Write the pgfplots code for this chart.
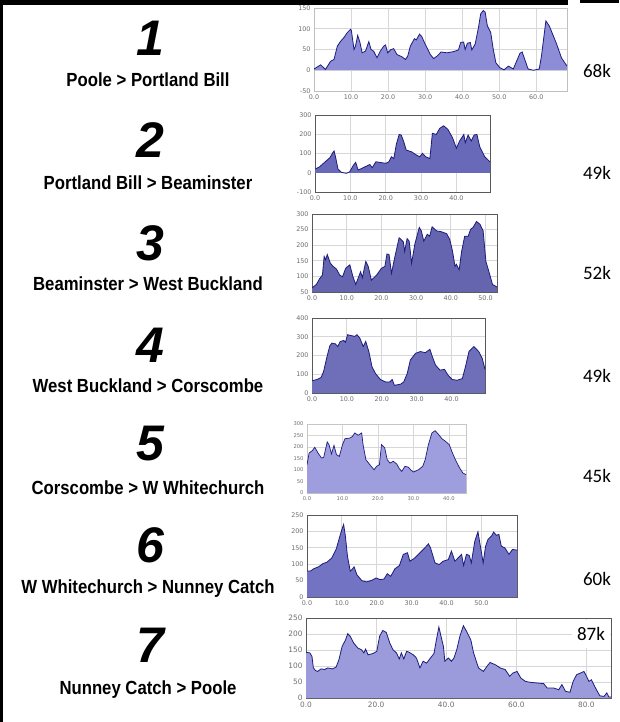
\documentclass[border=0pt]{standalone}
\usepackage{pgfplots}
\pgfplotsset{compat=1.18}
\usepackage{fontspec}
\setmainfont{Liberation Sans}
\newfontfamily\tickfont{DejaVu Sans}
\newfontfamily\kfont{Carlito}
\newfontfamily\condfont[FakeStretch=0.88]{Liberation Sans}
\definecolor{lineblue}{RGB}{28,28,125}
\definecolor{gridc}{RGB}{215,215,215}
\definecolor{tickc}{RGB}{110,110,110}
\pgfplotsset{
  prof/.style={
    scale only axis, anchor=north west,
    axis background/.style={fill=white},
    grid=major, major grid style={gridc, line width=0.8pt},
    major tick length=0pt,
    axis line style={draw=#1, line width=0.8pt},
    tick label style={font=\tickfont\fontsize{6.4}{7}\selectfont, text=tickc},
    /pgf/number format/assume math mode=true,
    xticklabel style={/pgf/number format/.cd, fixed, fixed zerofill, precision=1},
    yticklabel style={/pgf/number format/.cd, fixed, precision=0},
    xmin=0, clip=true,
  },
}
\newcommand{\routelabel}[2]{\node at (148pt,-#1pt) {\condfont\fontsize{19}{19}\selectfont\bfseries #2};}
\newcommand{\bignum}[2]{\node at (150pt,-#1pt) {\fontsize{50}{50}\selectfont\bfseries\itshape #2};}
\newcommand{\klabel}[2]{\node at (597pt,-#1pt) {\kfont\fontsize{19}{19}\selectfont #2};}
\begin{document}
\begin{tikzpicture}
\useasboundingbox (0,0) rectangle (619pt,-722pt);
\fill[white] (0,0) rectangle (619pt,-722pt);

% ---- 1
\begin{axis}[prof={gray!50}, at={(314pt,-8pt)}, width=253pt, height=83pt,
  xmax=68.3, ymin=-50, ymax=150, xtick={0,10,...,60}, ytick={-50,0,50,100,150}]
\addplot[fill={rgb,255:red,140;green,140;blue,215}, draw=none] coordinates {
(0,3) (1.8,13) (3.1,2) (4.5,22) (5.4,26) (6.3,58) (7.2,70) (8.1,79) (9,91) (9.9,99) (10.1,95) (10.8,50) (11.2,58) (11.8,84) (12.4,67) (13,42) (13.9,46) (14.8,69) (15.4,50) (16.1,46) (17,30) (17.9,46) (18.8,58) (19.3,61) (19.9,42) (20.8,50) (21.5,52) (22.4,38) (23.8,32) (24.7,26) (25.3,34) (26,58) (27.1,76) (27.6,73) (28.5,87) (29.1,81) (30,63) (31.4,38) (32.3,28) (33.2,34) (34.3,44) (35.9,42) (37.7,45) (39,49) (39.6,67) (40.4,68) (40.8,50) (41.4,65) (42.2,67) (42.6,49) (43.5,63) (44.4,103) (45,136) (45.7,144) (46.2,140) (46.8,107) (47.7,91) (48.4,50) (49.1,18) (50.2,6) (51.3,1) (52.5,10) (53.8,3) (54.7,22) (55.6,41) (56.2,44) (56.9,26) (57.8,3) (59.2,0) (60.8,3) (61.4,34) (62.6,119) (63.5,107) (64.6,83) (65.5,63) (66.8,30) (68.3,10)
} \closedcycle;
\addplot[lineblue, line width=0.8pt] coordinates {
(0,3) (1.8,13) (3.1,2) (4.5,22) (5.4,26) (6.3,58) (7.2,70) (8.1,79) (9,91) (9.9,99) (10.1,95) (10.8,50) (11.2,58) (11.8,84) (12.4,67) (13,42) (13.9,46) (14.8,69) (15.4,50) (16.1,46) (17,30) (17.9,46) (18.8,58) (19.3,61) (19.9,42) (20.8,50) (21.5,52) (22.4,38) (23.8,32) (24.7,26) (25.3,34) (26,58) (27.1,76) (27.6,73) (28.5,87) (29.1,81) (30,63) (31.4,38) (32.3,28) (33.2,34) (34.3,44) (35.9,42) (37.7,45) (39,49) (39.6,67) (40.4,68) (40.8,50) (41.4,65) (42.2,67) (42.6,49) (43.5,63) (44.4,103) (45,136) (45.7,144) (46.2,140) (46.8,107) (47.7,91) (48.4,50) (49.1,18) (50.2,6) (51.3,1) (52.5,10) (53.8,3) (54.7,22) (55.6,41) (56.2,44) (56.9,26) (57.8,3) (59.2,0) (60.8,3) (61.4,34) (62.6,119) (63.5,107) (64.6,83) (65.5,63) (66.8,30) (68.3,10)
};
\end{axis}

% ---- 2
\begin{axis}[prof={gray!70!black}, at={(315pt,-115pt)}, width=175pt, height=77pt,
  xmax=49.5, ymin=-100, ymax=300, xtick={0,10,...,40}, ytick={-100,0,100,200,300}]
\addplot[fill={rgb,255:red,105;green,105;blue,185}, draw=none] coordinates {
(0,19) (1.3,31) (2.7,54) (4.2,78) (5.1,106) (5.4,113) (5.8,83) (6.5,19) (7.5,2) (8.9,-3) (9.8,5) (10.9,40) (11.5,54) (12.2,14) (13.6,26) (15.5,43) (16.2,26) (17.2,57) (18.3,54) (20,49) (20.9,57) (21.6,83) (22.3,74) (23,147) (23.8,199) (24.4,196) (25.1,161) (25.8,118) (27.3,109) (28.7,92) (29.6,83) (30.4,101) (31.3,83) (32.5,74) (33.2,205) (34.3,199) (35.3,231) (36.4,244) (37.6,225) (38.9,182) (40,127) (40.9,165) (42.1,199) (42.5,156) (43.3,196) (44.2,165) (45,196) (45.8,199) (46.6,135) (48,83) (49.5,57)
} \closedcycle;
\addplot[lineblue, line width=0.8pt] coordinates {
(0,19) (1.3,31) (2.7,54) (4.2,78) (5.1,106) (5.4,113) (5.8,83) (6.5,19) (7.5,2) (8.9,-3) (9.8,5) (10.9,40) (11.5,54) (12.2,14) (13.6,26) (15.5,43) (16.2,26) (17.2,57) (18.3,54) (20,49) (20.9,57) (21.6,83) (22.3,74) (23,147) (23.8,199) (24.4,196) (25.1,161) (25.8,118) (27.3,109) (28.7,92) (29.6,83) (30.4,101) (31.3,83) (32.5,74) (33.2,205) (34.3,199) (35.3,231) (36.4,244) (37.6,225) (38.9,182) (40,127) (40.9,165) (42.1,199) (42.5,156) (43.3,196) (44.2,165) (45,196) (45.8,199) (46.6,135) (48,83) (49.5,57)
};
\end{axis}

% ---- 3
\begin{axis}[prof={gray!70!black}, at={(312pt,-214pt)}, width=185pt, height=78pt,
  xmax=53.3, ymin=50, ymax=300, xtick={0,10,...,50}, ytick={50,100,...,300}]
\addplot[fill={rgb,255:red,100;green,100;blue,175}, draw=none] coordinates {
(0,63) (1.25,74) (2.2,93) (3,104) (3.5,164) (3.9,153) (4.4,170) (5.3,142) (6.1,132) (7,124) (8,104) (8.8,99) (9.7,126) (10.9,137) (11.8,99) (12.6,74) (14,115) (14.5,96) (15.5,148) (16.2,132) (17.1,88) (18.6,104) (20,126) (21,132) (21.6,172) (22.2,170) (22.9,110) (23.8,159) (25.1,224) (26.3,211) (26.7,180) (27.4,221) (28,213) (28.7,142) (29.6,202) (30.9,257) (31.5,246) (32.2,213) (33.2,235) (33.9,229) (34.6,259) (35.9,246) (37.3,243) (38.8,237) (39.7,218) (40.5,180) (41.2,132) (41.6,139) (42.4,121) (43.1,180) (44,229) (45,229) (45.7,251) (46.4,257) (47.4,276) (48.4,267) (49.3,246) (50.1,148) (51.1,110) (52,74) (53.3,66)
} \closedcycle;
\addplot[lineblue, line width=0.8pt] coordinates {
(0,63) (1.25,74) (2.2,93) (3,104) (3.5,164) (3.9,153) (4.4,170) (5.3,142) (6.1,132) (7,124) (8,104) (8.8,99) (9.7,126) (10.9,137) (11.8,99) (12.6,74) (14,115) (14.5,96) (15.5,148) (16.2,132) (17.1,88) (18.6,104) (20,126) (21,132) (21.6,172) (22.2,170) (22.9,110) (23.8,159) (25.1,224) (26.3,211) (26.7,180) (27.4,221) (28,213) (28.7,142) (29.6,202) (30.9,257) (31.5,246) (32.2,213) (33.2,235) (33.9,229) (34.6,259) (35.9,246) (37.3,243) (38.8,237) (39.7,218) (40.5,180) (41.2,132) (41.6,139) (42.4,121) (43.1,180) (44,229) (45,229) (45.7,251) (46.4,257) (47.4,276) (48.4,267) (49.3,246) (50.1,148) (51.1,110) (52,74) (53.3,66)
};
\end{axis}

% ---- 4
\begin{axis}[prof={gray!70!black}, at={(312pt,-318pt)}, width=173pt, height=75pt,
  xmax=49.6, ymin=0, ymax=400, xtick={0,10,...,40}, ytick={0,100,...,400}]
\addplot[fill={rgb,255:red,110;green,110;blue,185}, draw=none] coordinates {
(0,65) (1.4,72) (2.6,83) (3.3,113) (4.3,194) (5.1,251) (5.7,266) (6.7,262) (7.4,248) (8.1,275) (9.1,280) (9.6,271) (10.2,311) (11.5,305) (12.3,302) (12.9,311) (13.7,293) (14.7,248) (15.4,275) (16.3,221) (17.2,140) (18.2,104) (19.6,72) (21.1,59) (22.3,59) (23,72) (23.6,41) (25.4,47) (26.3,59) (27.3,104) (28.2,176) (29.7,212) (31.1,221) (32.5,215) (33.8,233) (34.5,194) (35.4,149) (36.7,122) (38,126) (39,95) (40.2,72) (41.6,68) (43.1,77) (44,140) (45,221) (46.4,248) (47.8,221) (48.8,185) (49.6,126)
} \closedcycle;
\addplot[lineblue, line width=0.8pt] coordinates {
(0,65) (1.4,72) (2.6,83) (3.3,113) (4.3,194) (5.1,251) (5.7,266) (6.7,262) (7.4,248) (8.1,275) (9.1,280) (9.6,271) (10.2,311) (11.5,305) (12.3,302) (12.9,311) (13.7,293) (14.7,248) (15.4,275) (16.3,221) (17.2,140) (18.2,104) (19.6,72) (21.1,59) (22.3,59) (23,72) (23.6,41) (25.4,47) (26.3,59) (27.3,104) (28.2,176) (29.7,212) (31.1,221) (32.5,215) (33.8,233) (34.5,194) (35.4,149) (36.7,122) (38,126) (39,95) (40.2,72) (41.6,68) (43.1,77) (44,140) (45,221) (46.4,248) (47.8,221) (48.8,185) (49.6,126)
};
\end{axis}

% ---- 5
\begin{axis}[prof={gray!45}, at={(307pt,-424pt)}, width=159pt, height=69pt,
  xmax=44.8, ymin=0, ymax=300, xtick={0,10,...,40}, ytick={0,50,...,300},
  tick label style={font=\tickfont\fontsize{5.2}{6}\selectfont}]
\addplot[fill={rgb,255:red,158;green,158;blue,222}, draw=none] coordinates {
(0,123) (0.6,174) (1.5,184) (2.2,199) (3.1,174) (4.1,152) (4.7,155) (5.7,222) (6.2,210) (6.9,170) (7.6,207) (8.3,167) (9.1,159) (10,210) (10.7,236) (12.1,239) (12.8,246) (13.5,261) (14.4,251) (15.4,261) (15.8,210) (16.6,145) (17.7,123) (18.9,101) (19.6,116) (20.4,123) (21,210) (21.9,196) (22.6,145) (23.4,130) (24.3,138) (25.3,126) (26,106) (26.7,94) (27.6,116) (28.6,112) (29.2,101) (30,91) (31.4,101) (32.6,116) (33.3,145) (34.2,210) (35.2,261) (36.1,271) (37.1,254) (38,236) (39,225) (40.1,210) (40.8,181) (41.8,145) (43,109) (43.9,87) (44.8,80)
} \closedcycle;
\addplot[lineblue, line width=0.7pt] coordinates {
(0,123) (0.6,174) (1.5,184) (2.2,199) (3.1,174) (4.1,152) (4.7,155) (5.7,222) (6.2,210) (6.9,170) (7.6,207) (8.3,167) (9.1,159) (10,210) (10.7,236) (12.1,239) (12.8,246) (13.5,261) (14.4,251) (15.4,261) (15.8,210) (16.6,145) (17.7,123) (18.9,101) (19.6,116) (20.4,123) (21,210) (21.9,196) (22.6,145) (23.4,130) (24.3,138) (25.3,126) (26,106) (26.7,94) (27.6,116) (28.6,112) (29.2,101) (30,91) (31.4,101) (32.6,116) (33.3,145) (34.2,210) (35.2,261) (36.1,271) (37.1,254) (38,236) (39,225) (40.1,210) (40.8,181) (41.8,145) (43,109) (43.9,87) (44.8,80)
};
\end{axis}

% ---- 6
\begin{axis}[prof={gray!70!black}, at={(307pt,-515pt)}, width=210pt, height=82pt,
  xmax=60.2, ymin=0, ymax=250, xtick={0,10,...,50}, ytick={0,50,...,250}]
\addplot[fill={rgb,255:red,115;green,115;blue,195}, draw=none] coordinates {
(0,79) (1,79) (1.9,86) (3.3,92) (4.6,102) (5.7,106) (7.1,119) (8.4,147) (9.3,181) (10,206) (10.5,221) (11,186) (11.6,124) (12.4,79) (12.9,84) (13.5,92) (14.3,68) (15.7,50) (17.1,46) (18.6,51) (19.8,58) (21,53) (22.1,55) (23,71) (24,63) (25.2,86) (26.5,96) (27.6,130) (28.8,135) (29.5,109) (30.9,119) (32.4,135) (33.8,150) (34.8,162) (35.4,150) (36.7,104) (37.9,99) (39,109) (40.5,114) (41.4,140) (42.4,109) (43.3,119) (44.3,130) (44.9,96) (45.7,130) (46.5,127) (47.1,104) (48.1,170) (49,199) (49.7,155) (50.5,104) (51.2,155) (51.9,176) (52.9,186) (53.5,198) (54.3,188) (55,191) (55.7,155) (56.7,150) (57.9,130) (58.9,145) (60.2,143)
} \closedcycle;
\addplot[lineblue, line width=0.8pt] coordinates {
(0,79) (1,79) (1.9,86) (3.3,92) (4.6,102) (5.7,106) (7.1,119) (8.4,147) (9.3,181) (10,206) (10.5,221) (11,186) (11.6,124) (12.4,79) (12.9,84) (13.5,92) (14.3,68) (15.7,50) (17.1,46) (18.6,51) (19.8,58) (21,53) (22.1,55) (23,71) (24,63) (25.2,86) (26.5,96) (27.6,130) (28.8,135) (29.5,109) (30.9,119) (32.4,135) (33.8,150) (34.8,162) (35.4,150) (36.7,104) (37.9,99) (39,109) (40.5,114) (41.4,140) (42.4,109) (43.3,119) (44.3,130) (44.9,96) (45.7,130) (46.5,127) (47.1,104) (48.1,170) (49,199) (49.7,155) (50.5,104) (51.2,155) (51.9,176) (52.9,186) (53.5,198) (54.3,188) (55,191) (55.7,155) (56.7,150) (57.9,130) (58.9,145) (60.2,143)
};
\end{axis}

% ---- 7
\begin{axis}[prof={gray!70!black}, at={(306pt,-618pt)}, width=305pt, height=80pt,
  xmax=87, ymin=0, ymax=250, xtick={0,20,...,80}, ytick={0,50,...,250},
  tick label style={font=\tickfont\fontsize{7.4}{8}\selectfont}]
\addplot[fill={rgb,255:red,155;green,155;blue,220}, draw=none] coordinates {
(0,143) (1.1,141) (1.7,130) (2.1,94) (2.7,86) (3.3,83) (4.3,91) (5.3,89) (6.2,94) (7.6,91) (8.6,97) (9.4,120) (10.3,161) (11.3,182) (11.9,201) (12.6,193) (13.6,172) (14.8,156) (15.8,151) (16.5,141) (17,153) (17.7,135) (19.1,139) (20.2,146) (21,193) (21.9,211) (22.9,205) (23.9,172) (24.8,151) (25.8,141) (26.6,122) (27.2,141) (27.9,122) (28.7,146) (29.4,143) (30.6,135) (31.5,125) (32.5,94) (33.4,115) (34.4,109) (35.5,125) (36.5,139) (37.2,182) (37.9,222) (38.4,198) (39.2,161) (39.6,115) (40.6,125) (41.5,115) (42.2,125) (43,151) (43.9,193) (44.9,226) (45.8,208) (47,182) (47.8,141) (49.2,94) (50.6,83) (51.6,99) (52.5,111) (54,104) (55.4,94) (56.8,89) (58.1,68) (59,78) (60.2,83) (61.3,62) (62.6,52) (64,49) (65.9,47) (67.8,45) (68.8,31) (70.7,31) (72.1,26) (73,42) (74,21) (75.3,18) (76.2,52) (77.2,73) (78.3,78) (79.3,83) (80,68) (80.7,52) (81.4,57) (82.6,31) (83.8,7) (85,5) (85.8,16) (86.4,3) (87,3)
} \closedcycle;
\addplot[lineblue, line width=0.8pt] coordinates {
(0,143) (1.1,141) (1.7,130) (2.1,94) (2.7,86) (3.3,83) (4.3,91) (5.3,89) (6.2,94) (7.6,91) (8.6,97) (9.4,120) (10.3,161) (11.3,182) (11.9,201) (12.6,193) (13.6,172) (14.8,156) (15.8,151) (16.5,141) (17,153) (17.7,135) (19.1,139) (20.2,146) (21,193) (21.9,211) (22.9,205) (23.9,172) (24.8,151) (25.8,141) (26.6,122) (27.2,141) (27.9,122) (28.7,146) (29.4,143) (30.6,135) (31.5,125) (32.5,94) (33.4,115) (34.4,109) (35.5,125) (36.5,139) (37.2,182) (37.9,222) (38.4,198) (39.2,161) (39.6,115) (40.6,125) (41.5,115) (42.2,125) (43,151) (43.9,193) (44.9,226) (45.8,208) (47,182) (47.8,141) (49.2,94) (50.6,83) (51.6,99) (52.5,111) (54,104) (55.4,94) (56.8,89) (58.1,68) (59,78) (60.2,83) (61.3,62) (62.6,52) (64,49) (65.9,47) (67.8,45) (68.8,31) (70.7,31) (72.1,26) (73,42) (74,21) (75.3,18) (76.2,52) (77.2,73) (78.3,78) (79.3,83) (80,68) (80.7,52) (81.4,57) (82.6,31) (83.8,7) (85,5) (85.8,16) (86.4,3) (87,3)
};
\end{axis}

% labels
\bignum{38}{1}
\bignum{140}{2}
\bignum{243}{3}
\bignum{345}{4}
\bignum{444}{5}
\bignum{545}{6}
\bignum{645}{7}
\routelabel{80}{Poole > Portland Bill}
\routelabel{183}{Portland Bill > Beaminster}
\routelabel{284}{Beaminster > West Buckland}
\routelabel{386}{West Buckland > Corscombe}
\routelabel{488}{Corscombe > W Whitechurch}
\routelabel{589}{W Whitechurch > Nunney Catch}
\routelabel{690}{Nunney Catch > Poole}
\klabel{71}{68k}
\klabel{173}{49k}
\klabel{273}{52k}
\klabel{376}{49k}
\klabel{476}{45k}
\klabel{579}{60k}
\node[fill=white, inner sep=2pt, minimum height=28pt, minimum width=38pt] at (591pt,-634pt) {\kfont\fontsize{19}{19}\selectfont 87k};
% frame
\fill[black] (0,0) rectangle (568pt,-5pt);
\fill[black] (580pt,0) rectangle (619pt,-3pt);
\fill[black] (0,0) rectangle (3pt,-722pt);
\end{tikzpicture}
\end{document}
